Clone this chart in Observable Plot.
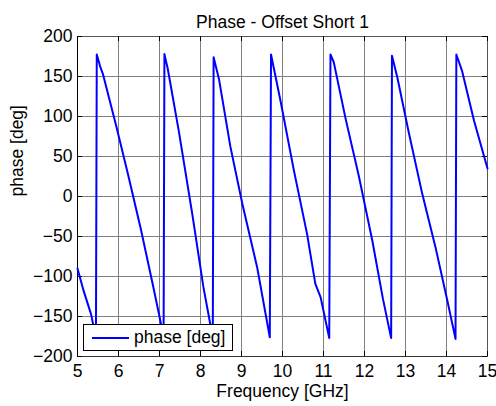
<!DOCTYPE html>
<html>
<head>
<meta charset="utf-8">
<script src="https://cdn.jsdelivr.net/npm/d3@7"></script>
<script src="https://cdn.jsdelivr.net/npm/@observablehq/plot@0.6"></script>
<style>
  body { margin: 0; background: #fff; }
  #wrap { position: relative; width: 496px; height: 406px; font-family: "Liberation Sans", Arial, sans-serif; }
  #legend { position: absolute; left: 83px; top: 324px; width: 148px; height: 25px; border: 1.5px solid #000; background: #fff; }
  #legend .swatch { position: absolute; left: 8px; top: 11.5px; width: 37px; height: 2px; background: #0000ff; }
  #legend .txt { position: absolute; left: 50px; top: 2px; font-size: 17.5px; line-height: 20px; color: #000; white-space: nowrap; }
</style>
</head>
<body>
<div id="wrap"></div>
<script>
const titleText = "Phase - Offset Short 1";
const xLabel = "Frequency [GHz]";
const yLabel = "phase [deg]";
const seriesName = "phase [deg]";
const xTicks = [5, 6, 7, 8, 9, 10, 11, 12, 13, 14, 15];
const yTicks = [-200, -150, -100, -50, 0, 50, 100, 150, 200];

const freq = [
  5.00, 5.15, 5.33, 5.45, 5.47, 5.55, 5.62, 5.94, 6.23, 6.55, 6.84, 7.02, 7.10,
  7.12, 7.20, 7.47, 7.80, 8.07, 8.24, 8.30,
  8.32, 8.45, 8.73, 9.02, 9.38, 9.69,
  9.72, 9.95, 10.28, 10.60, 10.80, 10.93, 11.14,
  11.17, 11.25, 11.54, 11.86, 12.19, 12.45, 12.65,
  12.67, 12.80, 13.08, 13.41, 13.73, 14.02, 14.22,
  14.24, 14.38, 14.67, 15.00
];
const phase = [
  -90, -118, -147, -177, 177.5, 163, 153, 89, 28, -42, -111, -155, -178,
  178, 160, 82, -22, -113, -160, -177,
  174, 147, 62, -9, -88, -176,
  177.5, 120, 32, -47, -109, -126, -177,
  177.5, 168, 97, 26, -55, -128, -177,
  176, 149, 80, 3, -63, -130, -178,
  177.5, 157, 95, 35
];

const data = freq.map((f, i) => ({f, p: phase[i]}));

const chart = Plot.plot({
  width: 496,
  height: 406,
  marginLeft: 77,
  marginRight: 9,
  marginTop: 36,
  marginBottom: 50,
  style: {fontFamily: "'Liberation Sans', Arial, sans-serif", fontSize: "17.5px", color: "#000", background: "#fff"},
  x: {domain: [5, 15], ticks: xTicks, label: null},
  y: {domain: [-200, 200], ticks: yTicks, label: null},
  marks: [
    Plot.ruleX(xTicks, {stroke: "#808080", strokeWidth: 1}),
    Plot.ruleY(yTicks, {stroke: "#808080", strokeWidth: 1}),
    Plot.frame({stroke: "#555"}),
    Plot.ruleX([5], {stroke: "#000"}),
    Plot.ruleY([-200], {stroke: "#333"}),
    Plot.ruleX(xTicks, {stroke: "#000", insetTop: 315}),
    Plot.ruleX(xTicks, {stroke: "#000", insetBottom: 315}),
    Plot.ruleY(yTicks, {stroke: "#000", insetRight: 405}),
    Plot.ruleY(yTicks, {stroke: "#000", insetLeft: 405}),
    Plot.axisX(xTicks, {tickSize: 0, tickPadding: 8, label: null, fontSize: 17.5, fill: "#000"}),
    Plot.axisY(yTicks, {tickSize: 0, tickPadding: 5, label: null, fontSize: 17.5, fill: "#000"}),
    Plot.line(data, {x: "f", y: "p", stroke: "#0000ff", strokeWidth: 2}),
    Plot.text([titleText], {frameAnchor: "top", dy: -21, text: d => d, fontSize: 17.5, fill: "#000"}),
    Plot.text([xLabel], {frameAnchor: "bottom", dy: 40, text: d => d, fontSize: 17.5, fill: "#000"}),
    Plot.text([yLabel], {frameAnchor: "left", dx: -60, rotate: -90, text: d => d, fontSize: 17.5, fill: "#000"})
  ]
});

const wrap = document.getElementById("wrap");
wrap.appendChild(chart);
const legend = document.createElement("div");
legend.id = "legend";
legend.innerHTML = `<div class="swatch"></div><div class="txt"></div>`;
legend.querySelector(".txt").textContent = seriesName;
wrap.appendChild(legend);
</script>
</body>
</html>
